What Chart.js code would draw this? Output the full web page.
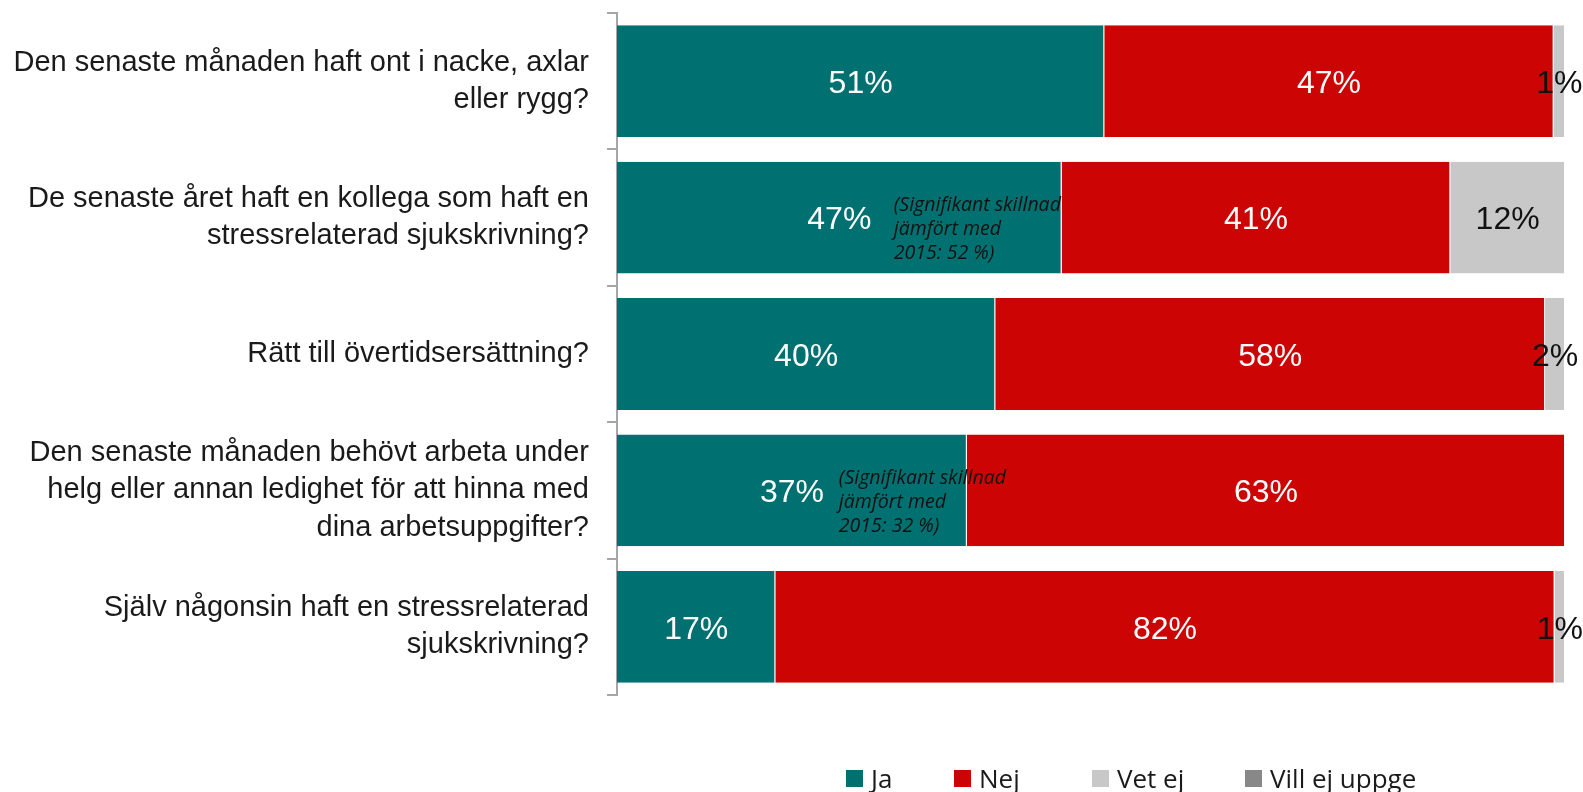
<!DOCTYPE html>
<html>
<head>
<meta charset="utf-8">
<script src="https://cdn.jsdelivr.net/npm/chart.js@4/dist/chart.umd.min.js"></script>
<style>
  body { margin: 0; background: #fff; }
  #wrap { position: relative; width: 1583px; height: 792px; }
  #legend { position: absolute; left: 0; top: 763px; width: 1583px; height: 30px;
            font-family: "Open Sans", "Liberation Sans", sans-serif; font-size: 26px; color: #1a1a1a; }
  .item { position: absolute; top: 0; display: flex; align-items: center; height: 30px; }
  .box { width: 17px; height: 17px; margin-right: 8px; }
</style>
</head>
<body>
<div id="wrap">
  <canvas id="chart" width="1583" height="792"></canvas>
  <div id="legend"></div>
</div>
<script>
const categories = [
  ["Den senaste månaden haft ont i nacke, axlar", "eller rygg?"],
  ["De senaste året haft en kollega som haft en", "stressrelaterad sjukskrivning?"],
  ["Rätt till övertidsersättning?"],
  ["Den senaste månaden behövt arbeta under", "helg eller annan ledighet för att hinna med", "dina arbetsuppgifter?"],
  ["Själv någonsin haft en stressrelaterad", "sjukskrivning?"]
];
const seriesNames = ["Ja", "Nej", "Vet ej", "Vill ej uppge"];
const ja = [51.4, 46.9, 39.9, 36.9, 16.7];
const nej = [47.4, 41.0, 58.0, 63.1, 82.2];
const vetEj = [1.2, 12.1, 2.1, 0, 1.1];
const villEj = [0, 0, 0, 0, 0];
const notes = [null, ["(Signifikant skillnad", "jämfört med", "2015: 52 %)"], null,
               ["(Signifikant skillnad", "jämfört med", "2015: 32 %)"], null];

const colors = ["#007070", "#cc0404", "#c8c8c8", "#888888"];
const labelColors = ["#ffffff", "#ffffff", "#111111", "#111111"];

// percentage text centred in each segment
const valueLabels = {
  id: "valueLabels",
  afterDatasetsDraw(chart) {
    const ctx = chart.ctx;
    ctx.save();
    ctx.font = '32px "Liberation Sans", Arial, sans-serif';
    ctx.textAlign = "center";
    ctx.textBaseline = "middle";
    chart.data.datasets.forEach((ds, i) => {
      const meta = chart.getDatasetMeta(i);
      meta.data.forEach((bar, j) => {
        const v = ds.data[j];
        if (!v) return;
        ctx.fillStyle = labelColors[i];
        ctx.fillText(Math.round(v) + "%", (bar.x + bar.base) / 2, bar.y + 3);
      });
    });
    ctx.restore();
  }
};

// italic notes inside the Ja bars
const noteLabels = {
  id: "noteLabels",
  afterDatasetsDraw(chart, args, opts) {
    const ctx = chart.ctx;
    const xs = chart.scales.x, ys = chart.scales.y;
    ctx.save();
    ctx.font = 'italic 19.5px "Open Sans", "Liberation Sans", sans-serif';
    ctx.fillStyle = "#111";
    ctx.textAlign = "left";
    ctx.textBaseline = "middle";
    notes.forEach((lines, j) => {
      if (!lines) return;
      const x = xs.getPixelForValue(opts.at[j]);
      const y = ys.getPixelForValue(j);
      lines.forEach((t, k) => ctx.fillText(t, x, y - 12 + k * 24));
    });
    ctx.restore();
  }
};

const datasets = [ja, nej, vetEj, villEj].map((d, i) => ({
  label: seriesNames[i],
  data: d,
  backgroundColor: colors[i],
  borderColor: "rgba(255,255,255,0.7)",
  borderWidth: { right: 1 },
  borderSkipped: false,
  barPercentage: 0.82,
  categoryPercentage: 1
}));

new Chart(document.getElementById("chart"), {
  type: "bar",
  data: { labels: categories, datasets: datasets },
  plugins: [valueLabels, noteLabels],
  options: {
    indexAxis: "y",
    responsive: false,
    animation: false,
    layout: { padding: { top: 13, right: 18, bottom: 97, left: 0 } },
    plugins: {
      legend: { display: false },
      tooltip: { enabled: false },
      noteLabels: { at: [0, 29.2, 0, 23.4, 0] }
    },
    scales: {
      x: { stacked: true, min: 0, max: 100, display: false },
      y: {
        stacked: true,
        afterFit(scale) {
          scale.width = 617;
          scale.paddingTop = 0;
          scale.paddingBottom = 0;
        },
        border: { color: "#a6a6a6", width: 2 },
        grid: { drawOnChartArea: false, tickLength: 10, color: "#a6a6a6", lineWidth: 2, offset: true },
        ticks: {
          padding: 18,
          color: "#1a1a1a",
          font: { family: '"Liberation Sans", Arial, sans-serif', size: 29, lineHeight: 1.28 }
        }
      }
    }
  }
});

const legendPos = [846, 954, 1092, 1245];
const legend = document.getElementById("legend");
seriesNames.forEach((n, i) => {
  const it = document.createElement("div");
  it.className = "item";
  it.style.left = legendPos[i] + "px";
  it.innerHTML = '<span class="box" style="background:' + colors[i] + '"></span><span>' + n + '</span>';
  legend.appendChild(it);
});
</script>
</body>
</html>
